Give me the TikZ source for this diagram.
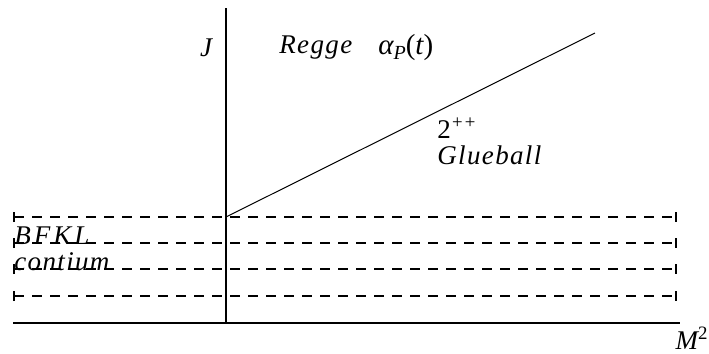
\documentclass[tikz,border=0pt]{standalone}
\usepackage{fontspec}
\setmainfont{Liberation Serif}
\usetikzlibrary{arrows.meta,positioning}

\begin{document}
\begin{tikzpicture}[
  x=0.5pt, y=-0.5pt,
  every node/.style={font=\fontsize{13.5}{15}\selectfont\itshape, inner sep=0pt},
  word/.style={font=\fontsize{13.5}{15}\selectfont\itshape\addfontfeature{LetterSpace=5}},
  axis/.style={line width=1pt},
  continuum/.style={line width=1pt, dash pattern=on 5pt off 4pt, {Bar[width=5pt,line width=0.8pt]}-{Bar[width=5pt,line width=0.8pt]}},
  traj/.style={line width=0.5pt}
]
\useasboundingbox (0,0) rectangle (709,354);

% axes
\coordinate (jtop) at (226,8);
\coordinate (jbot) at (226,324);
\coordinate (mleft) at (13,323);
\coordinate (mright) at (680,323);
\draw[axis] (jtop) -- (jbot);
\draw[axis] (mleft) -- (mright);

% BFKL cut
\foreach \yy [count=\i] in {217,243,269,296} {
  \coordinate (cl\i) at (13,\yy);
  \coordinate (cr\i) at (677,\yy);
  \draw[continuum] (cl\i) -- (cr\i);
}

% leading trajectory
\coordinate (traj0) at (226,217);
\coordinate (traj1) at (595,33);
\draw[traj] (traj0) -- (traj1);

\node (jlab) at (206,48) {J};
\node[word, anchor=west] (regge) at (279,48) {Regge};
\node[anchor=west, font=\fontsize{14.5}{15}\selectfont\itshape] (alpha) at (378,48) {α\raisebox{-0.35ex}{\fontsize{10}{10}\selectfont P}{\upshape(}t{\upshape)}};
\node[anchor=west] (spin) at (437,128) {{\upshape 2}\textsuperscript{++}};
\node[word, anchor=west] (glue) at (437,155) {Glueball};
\node[word, anchor=west, font=\fontsize{13.5}{15}\selectfont\itshape\addfontfeature{LetterSpace=11}] (bfkl) at (14,236) {BFKL};
\node[word, anchor=west] (cont) at (14,262) {contium};
\node[anchor=east] (mlab) at (709,338) {M\textsuperscript{\upshape 2}};
\end{tikzpicture}
\end{document}
